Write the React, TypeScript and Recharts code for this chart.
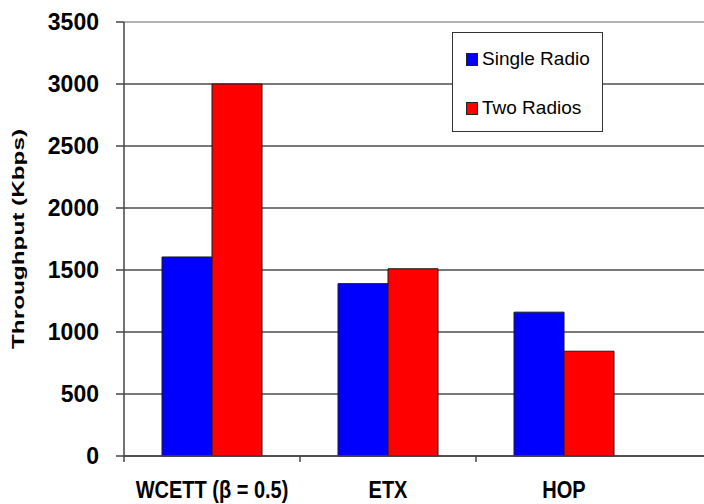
import React from 'react';
import { BarChart, Bar, XAxis, YAxis, CartesianGrid, Legend } from 'recharts';

const categories = ['WCETT (β = 0.5)', 'ETX', 'HOP'];
const singleRadio = [1605, 1390, 1160];
const twoRadios = [3000, 1510, 845];
const yTicks = [0, 500, 1000, 1500, 2000, 2500, 3000, 3500];

const data = categories.map((name, i) => ({ name, single: singleRadio[i], two: twoRadios[i] }));

const FONT = '"Liberation Sans", Arial, sans-serif';
const AXIS = '#444';

// no scrollbars: the plot runs off the right edge like the original
if (typeof document !== 'undefined') {
    document.documentElement.style.overflow = 'hidden';
    document.body.style.margin = '0';
}

const XTick = (props: any) => {
    const { x, y, payload } = props;
    const half = payload.offset ?? 88;
    return (
        <g>
            <line x1={x - half} y1={y - 6} x2={x - half} y2={y} stroke={AXIS} strokeWidth={1.5} />
            <text
                transform={`translate(${x},${y + 36}) scale(1,1.19)`}
                textAnchor="middle"
                fontFamily={FONT}
                fontWeight="bold"
                fontSize={20}
                fill="#000"
            >
                {payload.value}
            </text>
        </g>
    );
};

const YTick = (props: any) => {
    const { x, y, payload } = props;
    return (
        <text x={x} y={y + 8} textAnchor="end" fontFamily={FONT} fontWeight="bold" fontSize={23} fill="#000">
            {payload.value}
        </text>
    );
};

const YTitle = (props: any) => {
    const vb = props.viewBox || { x: 0, y: 0, width: 0, height: 0 };
    const cy = vb.y + vb.height / 2;
    return (
        <text
            transform={`translate(${vb.x + 24},${cy}) rotate(-90) scale(1.43,1)`}
            textAnchor="middle"
            fontFamily={FONT}
            fontWeight="bold"
            fontSize={17}
            fill="#000"
        >
            Throughput (Kbps)
        </text>
    );
};

// top border of the plot is lighter than the other grid lines
const GridLine = (p: any) => (
    <line
        key={`h-${p.index}`}
        x1={p.x1}
        y1={p.y1}
        x2={p.x2}
        y2={p.y2}
        stroke={p.y1 < 30 ? '#999' : '#4d4d4d'}
        strokeWidth={1.4}
    />
);

const LegendBox = ({ payload }: any) => (
    <div style={{ width: 151, height: 100, boxSizing: 'border-box', border: '1px solid #333', background: '#fff', position: 'relative', fontFamily: FONT }}>
        {(payload || []).map((entry: any, i: number) => (
            <div key={entry.value} style={{ position: 'absolute', left: 13, top: 17 + i * 49, display: 'flex', alignItems: 'center', height: 18 }}>
                <span style={{ width: 12, height: 13, boxSizing: 'border-box', background: entry.color, border: '1px solid #222', display: 'inline-block', marginRight: 4 }} />
                <span style={{ fontSize: 19, color: '#000', lineHeight: '18px' }}>{entry.value}</span>
            </div>
        ))}
    </div>
);

export default function App() {
    return (
        <div style={{ position: 'absolute', left: 0, top: 0, width: 704, height: 504, overflow: 'hidden', background: '#fff' }}>
            <BarChart
                width={712}
                height={504}
                data={data}
                margin={{ top: 22, right: 0, bottom: 8, left: 0 }}
                barCategoryGap="21.6%"
                barGap={0}
            >
                <CartesianGrid vertical={false} horizontal={GridLine} />
                <XAxis
                    dataKey="name"
                    height={40}
                    padding={{ left: 0, right: 60 }}
                    tickLine={false}
                    tickSize={6}
                    tickMargin={0}
                    axisLine={{ stroke: AXIS, strokeWidth: 1.5 }}
                    tick={<XTick />}
                    interval={0}
                />
                <YAxis
                    width={124}
                    domain={[0, 3500]}
                    ticks={yTicks}
                    interval={0}
                    tickSize={8}
                    tickMargin={17}
                    tickLine={{ stroke: AXIS, strokeWidth: 1.5 }}
                    axisLine={{ stroke: AXIS, strokeWidth: 1.5 }}
                    tick={<YTick />}
                    label={<YTitle />}
                />
                <Legend
                    layout="vertical"
                    align="center"
                    verticalAlign="middle"
                    content={<LegendBox />}
                    wrapperStyle={{ left: 452, top: 32, width: 151, height: 100 }}
                />
                <Bar dataKey="single" name="Single Radio" fill="#0000ff" stroke="#1a1a1a" strokeWidth={1} isAnimationActive={false} />
                <Bar dataKey="two" name="Two Radios" fill="#ff0000" stroke="#1a1a1a" strokeWidth={1} isAnimationActive={false} />
            </BarChart>
        </div>
    );
}
